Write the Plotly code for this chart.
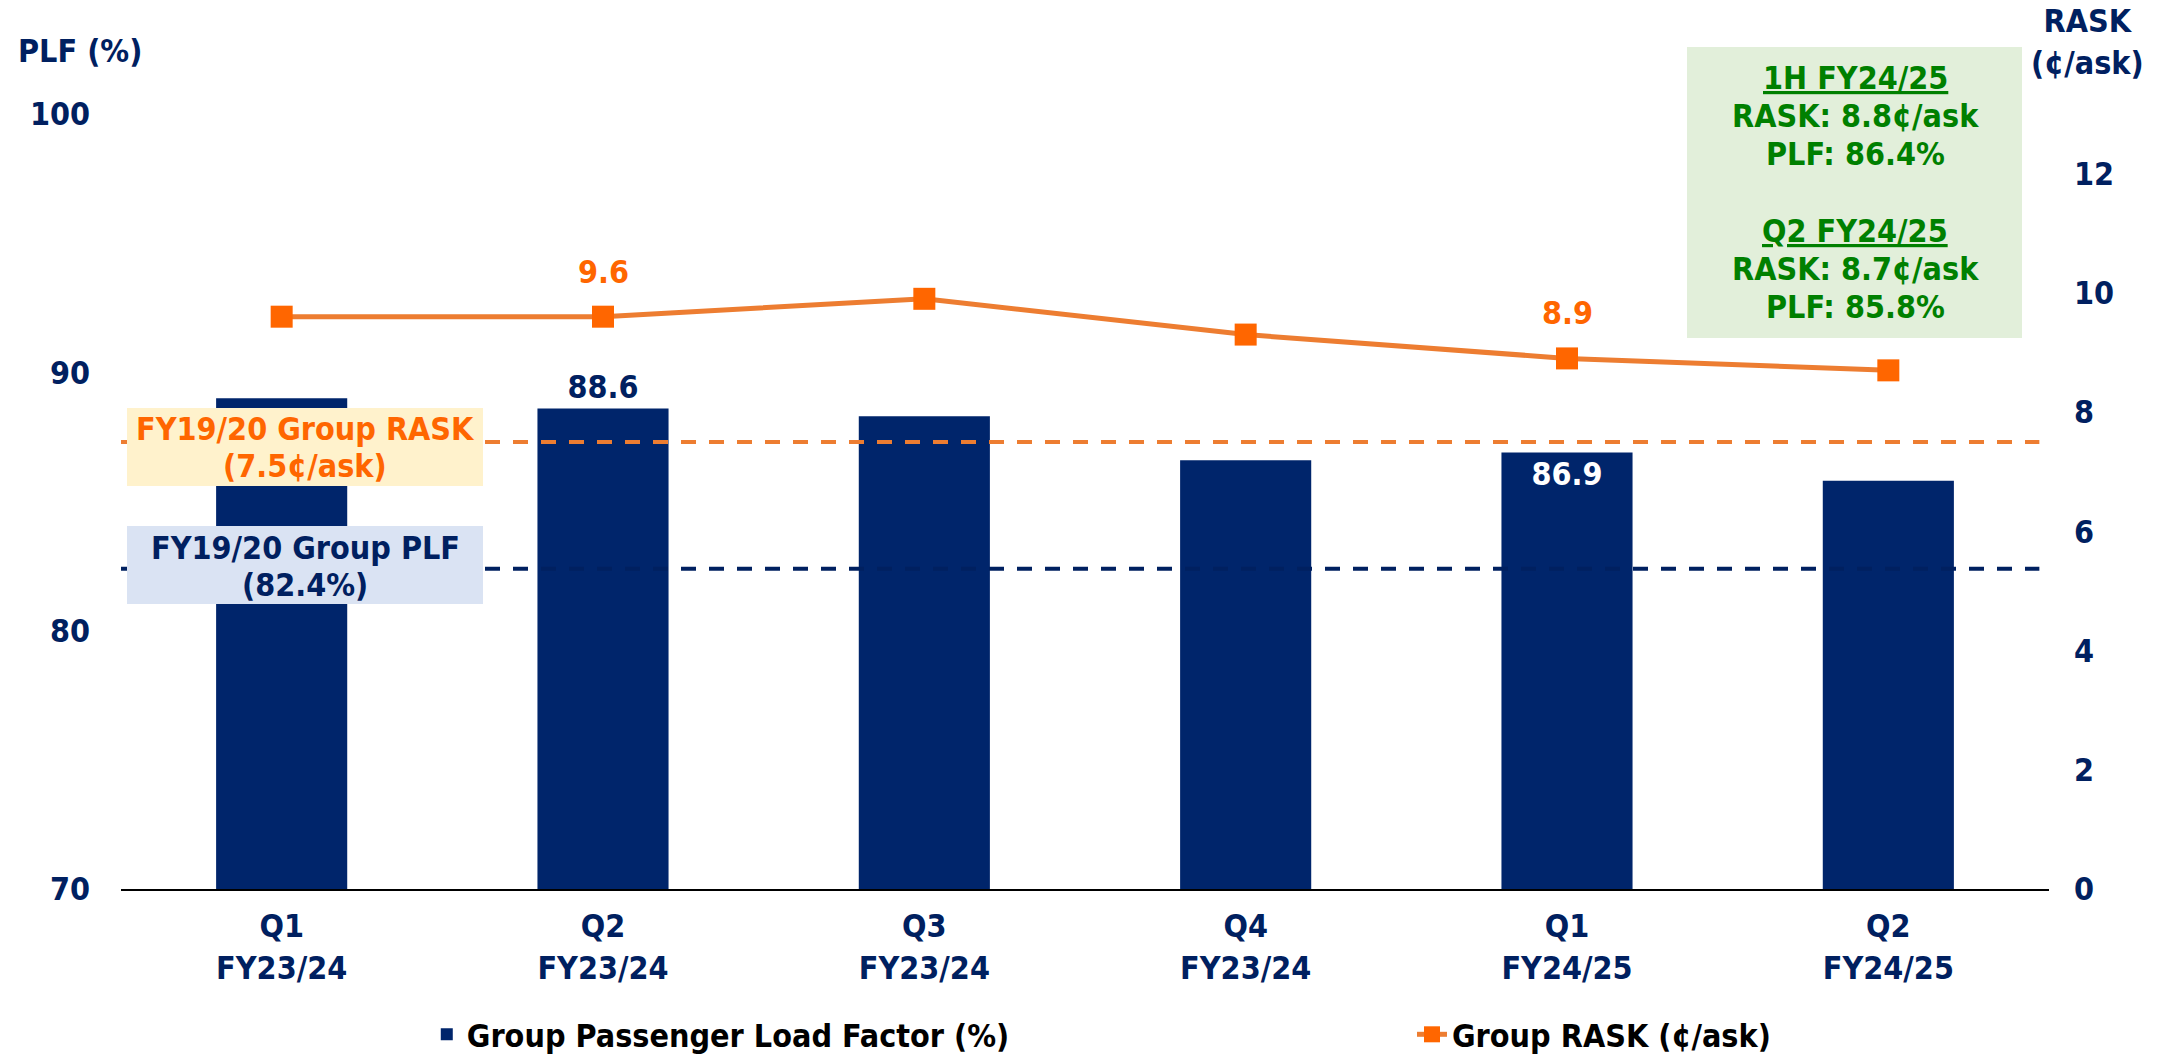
import plotly.graph_objects as go

# ---- data ----
categories = ["Q1<br>FY23/24", "Q2<br>FY23/24", "Q3<br>FY23/24",
              "Q4<br>FY23/24", "Q1<br>FY24/25", "Q2<br>FY24/25"]
plf = [89.0, 88.6, 88.3, 86.6, 86.9, 85.8]
rask = [9.6, 9.6, 9.9, 9.3, 8.9, 8.7]
plf_labels = ["", "88.6", "", "", "86.9", ""]
plf_label_pos = ["none", "outside", "none", "none", "inside", "none"]
rask_labels = ["", "9.6", "", "", "8.9", ""]
plf_baseline = 82.4
rask_baseline = 7.5
left_ticks = [70, 80, 90, 100]
right_ticks = [0, 2, 4, 6, 8, 10, 12]

rask_note_lines = ["FY19/20 Group RASK", "(7.5¢/ask)"]
plf_note_lines = ["FY19/20 Group PLF", "(82.4%)"]
summary_lines = ["<u>1H FY24/25</u>", "RASK: 8.8¢/ask", "PLF: 86.4%",
                 "<u>Q2 FY24/25</u>", "RASK: 8.7¢/ask", "PLF: 85.8%"]

NAVY = "#00256B"
NAVY_TXT = "#002060"
ORANGE_LINE = "#ED7D31"
ORANGE = "#FF6600"
GREEN = "#008000"
FONT = "Tahoma, 'DejaVu Sans Condensed', 'DejaVu Sans', sans-serif"
FS = 32

# plot area geometry (px) used for converting layout positions to paper coords
PL, PR, PT, PB = 121, 2049, 114, 889
def px(xp):
    return (xp - PL) / (PR - PL)
def py(yp):
    return (PB - yp) / (PB - PT)

fig = go.Figure()
fig.add_trace(go.Bar(
    x=categories, y=plf, name="Group Passenger Load Factor (%)",
    marker=dict(color=NAVY, line=dict(width=0)),
    text=plf_labels, textposition=plf_label_pos, insidetextanchor="end",
    insidetextfont=dict(color="white", size=FS),
    outsidetextfont=dict(color=NAVY_TXT, size=FS),
    constraintext="none", cliponaxis=False, hoverinfo="skip",
    legend="legend",
))
fig.add_trace(go.Scatter(
    x=categories, y=rask, yaxis="y2", name="Group RASK (¢/ask)",
    mode="lines+markers",
    line=dict(color=ORANGE_LINE, width=5),
    marker=dict(symbol="square", size=22, color=ORANGE),
    cliponaxis=False, hoverinfo="skip",
    legend="legend2",
))

# line value labels
for cat, val, lab in zip(categories, rask, rask_labels):
    if lab:
        fig.add_annotation(x=cat, y=val, xref="x", yref="y2", text=lab,
                           showarrow=False, yshift=45, yanchor="middle",
                           font=dict(color=ORANGE, size=FS))

# baseline dashed lines
fig.add_shape(type="line", xref="paper", yref="y", x0=0, x1=0.995,
              y0=plf_baseline, y1=plf_baseline, layer="above",
              line=dict(color=NAVY_TXT, width=4, dash="15px,13px"))
fig.add_shape(type="line", xref="paper", yref="y2", x0=0, x1=0.995,
              y0=rask_baseline, y1=rask_baseline, layer="above",
              line=dict(color=ORANGE_LINE, width=4, dash="15px,13px"))

# note boxes
boxes = [
    (127, 483, 408, 486, "#FFF2CC"),
    (127, 483, 526, 604, "#DAE3F3"),
    (1687, 2022, 47, 338, "#E2EFDA"),
]
for x0, x1, y0, y1, col in boxes:
    fig.add_shape(type="rect", xref="paper", yref="paper",
                  x0=px(x0), x1=px(x1), y0=py(y1), y1=py(y0),
                  fillcolor=col, line=dict(width=0), layer="above")

def add_lines(lines, xc, ycs, color):
    for txt, yc in zip(lines, ycs):
        fig.add_annotation(xref="paper", yref="paper", x=px(xc), y=py(yc),
                           xanchor="center", yanchor="middle", text=txt,
                           showarrow=False, font=dict(color=color, size=FS))

add_lines(rask_note_lines, 305, [429, 466], ORANGE)
add_lines(plf_note_lines, 305, [548, 585], NAVY_TXT)
add_lines(summary_lines, 1855, [78, 116, 154, 231, 269, 307], GREEN)

# axis titles
fig.add_annotation(xref="paper", yref="paper", x=px(16), y=py(51),
                   xanchor="left", yanchor="middle", text="PLF (%)",
                   showarrow=False, font=dict(color=NAVY_TXT, size=FS))
fig.add_annotation(xref="paper", yref="paper", x=px(2087), y=py(42),
                   xanchor="center", yanchor="middle", text="RASK<br>(¢/ask)",
                   showarrow=False, font=dict(color=NAVY_TXT, size=FS))

fig.update_layout(
    width=2182, height=1062,
    margin=dict(l=PL, r=2182 - PR, t=PT, b=1062 - PB, autoexpand=False),
    paper_bgcolor="white", plot_bgcolor="white",
    font=dict(family=FONT, size=FS, color=NAVY_TXT, weight="bold"),
    bargap=0.592, showlegend=True,
    legend=dict(orientation="h", x=0.1586, xanchor="left", y=py(1062), yanchor="bottom",
                font=dict(color="black", size=FS), bgcolor="rgba(0,0,0,0)"),
    legend2=dict(orientation="h", x=0.6696, xanchor="left", y=py(1062), yanchor="bottom",
                 font=dict(color="black", size=FS), bgcolor="rgba(0,0,0,0)"),
    xaxis=dict(showline=True, linecolor="black", linewidth=2, ticks="",
               showgrid=False, zeroline=False, ticklabelstandoff=8,
               tickfont=dict(size=FS, color=NAVY_TXT)),
    yaxis=dict(range=[70, 100], tickvals=left_ticks, showgrid=False, zeroline=False,
               showline=False, ticklabelstandoff=30,
               tickfont=dict(size=FS, color=NAVY_TXT)),
    yaxis2=dict(range=[0, 13], tickvals=right_ticks, overlaying="y", side="right",
                showgrid=False, zeroline=False, showline=False, ticklabelstandoff=24,
                tickfont=dict(size=FS, color=NAVY_TXT)),
)

fig.write_html("out.html")
